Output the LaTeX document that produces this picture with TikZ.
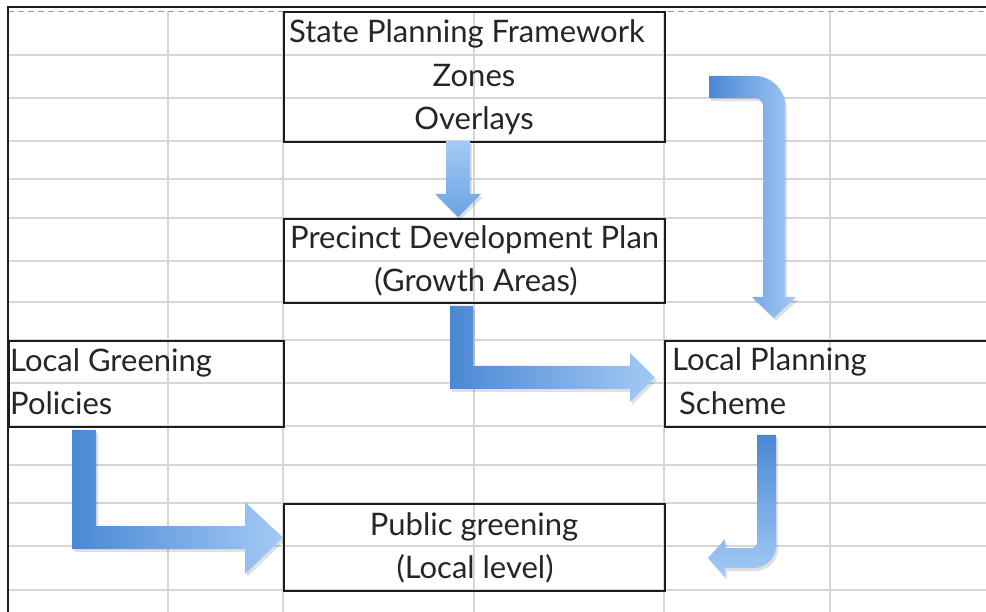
\documentclass[tikz,border=0pt]{standalone}
\usepackage{fontspec}
\setmainfont{Lato}
\definecolor{gridgray}{HTML}{D6D6D6}
\definecolor{dashgray}{HTML}{9A9A9A}
\definecolor{boxblack}{HTML}{1C1C1C}
\definecolor{txt}{HTML}{262626}
\definecolor{arrdark}{HTML}{4A88D4}
\definecolor{arrmid}{HTML}{6AA3E2}
\definecolor{arrlight}{HTML}{A4CAF5}
% outlines of the block arrows (y grows downwards)
\def\ArrowSpfPdp{(446,141) -- (470,141) -- (470,194) -- (481,194) -- (458,217) -- (435,194) -- (446,194) -- cycle}
\def\ArrowSpfLps{(709,76) -- (755,76) .. controls (771.6,76) and (785,89.4) .. (785,106) -- (785,297) -- (796,297) -- (774,318) -- (752,297) -- (763,297) -- (763,106) .. controls (763,101.6) and (759.4,98) .. (755,98) -- (709,98) -- cycle}
\def\ArrowPdpLps{(450,306) -- (473,306) -- (473,366) -- (630,366) -- (630,353) -- (655,377.5) -- (630,402) -- (630,389) -- (450,389) -- cycle}
\def\ArrowLgpPg{(72,430) -- (96,430) -- (96,526) -- (245,526) -- (245,502) -- (283,537.5) -- (245,574) -- (245,549) -- (72,549) -- cycle}
\def\ArrowLpsPg{(757,435) -- (776,435) -- (776,546) .. controls (776,558) and (766,568) .. (754,568) -- (725,568) -- (725,577) -- (708,558) -- (725,539) -- (725,548) -- (752,548) .. controls (755,548) and (757,546) .. (757,543) -- cycle}
\begin{document}
\begin{tikzpicture}[x=1pt,y=-1pt,
  gridline/.style={draw=gridgray, line width=1.4pt},
  box/.style={draw=boxblack, line width=1.7pt, rectangle, inner sep=0pt, anchor=north west},
  label/.style={font=\fontsize{31}{34}\selectfont, text=txt, inner sep=0pt},
  arrowshadow/.style={fill=black, opacity=0.12, shift={(2,3)}},
]
\useasboundingbox (0,0) rectangle (986,612);
\fill[white] (0,0) rectangle (986,612);

% spreadsheet cell grid
\foreach \gy in {55,98,141,179,218,261,302,340,383,426,465,503,546,590}
  \draw[gridline] (8,\gy) -- (990,\gy);
\foreach \gx in {168,283,474,664,830}
  \draw[gridline] (\gx,11) -- (\gx,615);
\draw[dashgray, line width=1.2pt, dash pattern=on 6pt off 4pt] (8,11.5) -- (990,11.5);
\draw[boxblack, line width=1.6pt] (990,7) -- (8,7) -- (8,615);

% bordered cell ranges
\node[box, minimum width=381, minimum height=130] (spf) at (283,11) {};
\node[box, minimum width=381, minimum height=84] (pdp) at (283,218) {};
\node[box, minimum width=275, minimum height=86] (lgp) at (8,340) {};
\node[box, minimum width=331, minimum height=86] (lps) at (664,340) {};
\node[box, minimum width=381, minimum height=87] (pg) at (283,503) {};

% cell texts
\node[label, anchor=base west] (spft) at (289,43) {State Planning Framework};
\node[label, anchor=base] (zon) at (474,87) {Zones};
\node[label, anchor=base] (ovl) at (474,130) {Overlays};
\node[label, anchor=base west] (pdpt) at (290,249) {Precinct Development Plan};
\node[label, anchor=base] (gra) at (476,292) {(Growth Areas)};
\node[label, anchor=base west] (lgpt) at (10,372) {Local Greening};
\node[label, anchor=base west] (pol) at (10,415) {Policies};
\node[label, anchor=base west] (lpst) at (672,371) {Local Planning};
\node[label, anchor=base west] (sch) at (679,414) {Scheme};
\node[label, anchor=base] (pgt) at (474,535) {Public greening};
\node[label, anchor=base] (llv) at (475,578) {(Local level)};

% block arrows with a faint drop shadow
\fill[arrowshadow] \ArrowSpfPdp;
\fill[arrowshadow] \ArrowSpfLps;
\fill[arrowshadow] \ArrowPdpLps;
\fill[arrowshadow] \ArrowLgpPg;
\fill[arrowshadow] \ArrowLpsPg;
\shade[top color=arrlight, bottom color=arrmid] \ArrowSpfPdp;
\shade[left color=arrdark, right color=arrlight] \ArrowSpfLps;
\shade[left color=arrdark, right color=arrlight] \ArrowPdpLps;
\shade[left color=arrdark, right color=arrlight] \ArrowLgpPg;
\shade[top color=arrdark, bottom color=arrlight] \ArrowLpsPg;
\end{tikzpicture}
\end{document}
